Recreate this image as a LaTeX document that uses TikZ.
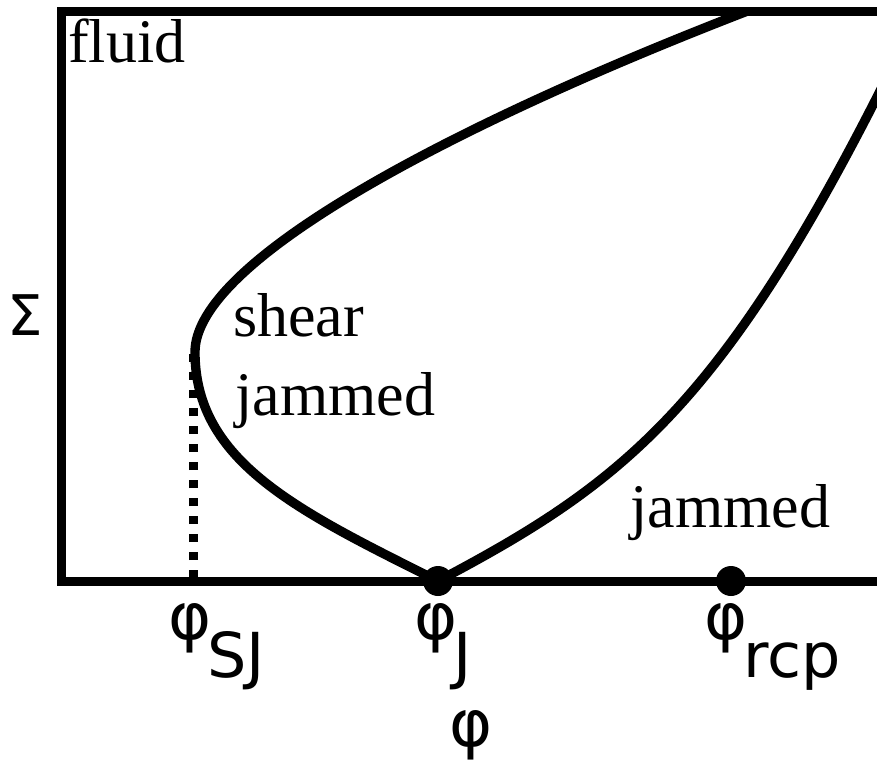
\documentclass[tikz,border=0pt]{standalone}
\usepackage{fontspec}
\setmainfont{Liberation Serif}
\newfontfamily\symfont{DejaVu Sans}
\usetikzlibrary{positioning}
\tikzset{
  frame/.style={line width=6.75pt},
  boundary/.style={line width=7pt, line join=round},
  sjline/.style={line width=6.75pt, dash pattern=on 6pt off 7.5pt},
  region/.style={font=\fontsize{46.5}{54}\selectfont, inner sep=0pt, anchor=base west},
  axlabel/.style={font=\symfont\fontsize{49}{56}\selectfont, inner sep=0pt, anchor=base west},
  marker/.style={circle, fill=black, inner sep=0pt, minimum size=22.5pt},
}
\newcommand{\subtext}[1]{\kern-3pt\lower28.5pt\hbox{\fontsize{46.5}{50}\selectfont #1}}

\begin{document}
\begin{tikzpicture}[x=0.75pt, y=-0.75pt]
  \useasboundingbox (0,0) rectangle (877,762);

  % phase boundary
  \coordinate (J) at (438,581);
  \coordinate (nose) at (195,352);
  \coordinate (SJ) at (193,578);
  \begin{scope}
    \clip (61,12) rectangle (877,581);
    \draw[boundary] (J) .. controls (298,511) and (195,462) .. (nose)
      .. controls (195,262) and (445,128) .. (745,12) -- (805,-11);
    \draw[boundary] (J) .. controls (618,486) and (717,411) .. (877,97)
      -- (904,44);
  \end{scope}
  \draw[sjline] (SJ) -- (193,345);

  % axes box
  \draw[frame] (882,581) -- (61,581) -- (61,12) -- (882,12);

  \node[marker] (phiJ) at (J) {};
  \node[marker] (phircp) at (731,581) {};

  % regions
  \node[region] (fluid) at (68,63) {fluid};
  \node[region] (shear) at (233,337) {shear};
  \node[region] (sjam) at (235,415) {jammed};
  \node[region] (jam) at (630,527) {jammed};

  % labels
  \node[axlabel] (lsj) at (168,639) {φ\subtext{SJ}};
  \node[axlabel] (lj) at (414,639) {φ\subtext{J}};
  \node[axlabel] (lrcp) at (704,639) {φ\subtext{rcp}};
  \node[font=\symfont\fontsize{49}{56}\selectfont, inner sep=0pt] (phi) at (471,735) {φ};
  \node[font=\symfont\fontsize{42}{50}\selectfont, inner sep=0pt] (sigma) at (25,315) {Σ};
\end{tikzpicture}
\end{document}
